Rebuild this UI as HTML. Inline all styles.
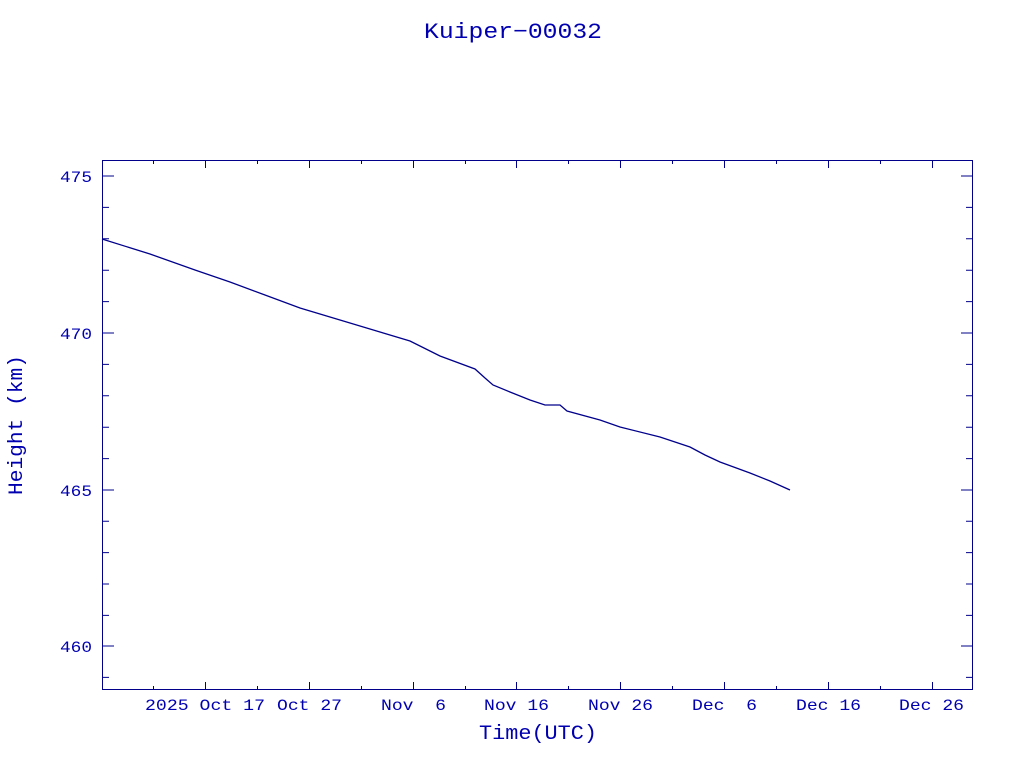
<!DOCTYPE html>
<html><head><meta charset="utf-8"><style>
body{margin:0;background:#fff;width:1024px;height:768px;overflow:hidden}
text{font-family:"Liberation Mono",monospace;fill:#0000b0}
</style></head><body>
<svg width="1024" height="768" xmlns="http://www.w3.org/2000/svg">
<text x="513" y="38" font-size="22" text-anchor="middle" textLength="178" lengthAdjust="spacingAndGlyphs">Kuiper−00032</text>
<rect x="102.5" y="160.5" width="870" height="529" fill="none" stroke="#00008b" stroke-width="1"/>
<g stroke="#00008b" stroke-width="1">
<path d="M102 176h12M973 176h-12M102 333h12M973 333h-12M102 490h12M973 490h-12M102 646h12M973 646h-12"/>
<path d="M102 207.4h7M973 207.4h-7M102 238.8h7M973 238.8h-7M102 270.2h7M973 270.2h-7M102 301.6h7M973 301.6h-7M102 364.4h7M973 364.4h-7M102 395.8h7M973 395.8h-7M102 427.2h7M973 427.2h-7M102 458.6h7M973 458.6h-7M102 521.2h7M973 521.2h-7M102 552.6h7M973 552.6h-7M102 584h7M973 584h-7M102 615.4h7M973 615.4h-7M102 677.4h7M973 677.4h-7"/>
<path d="M205.5 690v-8M205.5 160v8M309.5 690v-8M309.5 160v8M413.5 690v-8M413.5 160v8M516.5 690v-8M516.5 160v8M620.5 690v-8M620.5 160v8M724.5 690v-8M724.5 160v8M828.5 690v-8M828.5 160v8M932.5 690v-8M932.5 160v8"/>
<path d="M153.5 690v-4M153.5 160v4M257.5 690v-4M257.5 160v4M361.5 690v-4M361.5 160v4M465.5 690v-4M465.5 160v4M568.5 690v-4M568.5 160v4M672.5 690v-4M672.5 160v4M776.5 690v-4M776.5 160v4M880.5 690v-4M880.5 160v4"/>
</g>
<g font-size="16" text-anchor="end">
<text x="92" y="182" textLength="32" lengthAdjust="spacingAndGlyphs">475</text>
<text x="92" y="339" textLength="32" lengthAdjust="spacingAndGlyphs">470</text>
<text x="92" y="496" textLength="32" lengthAdjust="spacingAndGlyphs">465</text>
<text x="92" y="652" textLength="32" lengthAdjust="spacingAndGlyphs">460</text>
</g>
<g font-size="16">
<text x="145" y="710" xml:space="preserve" textLength="120" lengthAdjust="spacingAndGlyphs">2025 Oct 17</text>
<text x="277" y="710" textLength="65" lengthAdjust="spacingAndGlyphs">Oct 27</text>
<text x="381" y="710" xml:space="preserve" textLength="65" lengthAdjust="spacingAndGlyphs">Nov  6</text>
<text x="484" y="710" textLength="65" lengthAdjust="spacingAndGlyphs">Nov 16</text>
<text x="588" y="710" textLength="65" lengthAdjust="spacingAndGlyphs">Nov 26</text>
<text x="692" y="710" xml:space="preserve" textLength="65" lengthAdjust="spacingAndGlyphs">Dec  6</text>
<text x="796" y="710" textLength="65" lengthAdjust="spacingAndGlyphs">Dec 16</text>
<text x="899" y="710" textLength="65" lengthAdjust="spacingAndGlyphs">Dec 26</text>
</g>
<text x="479" y="739" font-size="20" textLength="118" lengthAdjust="spacingAndGlyphs">Time(UTC)</text>
<text transform="translate(22,495) rotate(-90)" font-size="20" textLength="140" lengthAdjust="spacingAndGlyphs">Height (km)</text>
<polyline fill="none" stroke="#00008b" stroke-width="1.3" points="102,239 150,254 195,270 230,282 265,295 300,308 340,320 380,332 410,341 440,356 475,369 485,378 493,385 510,392 530,400 545,405 560,405 567,411 600,420 620,427 660,437 690,447 705,455 720,462 750,473 770,481 790,490"/>
</svg>
</body></html>
